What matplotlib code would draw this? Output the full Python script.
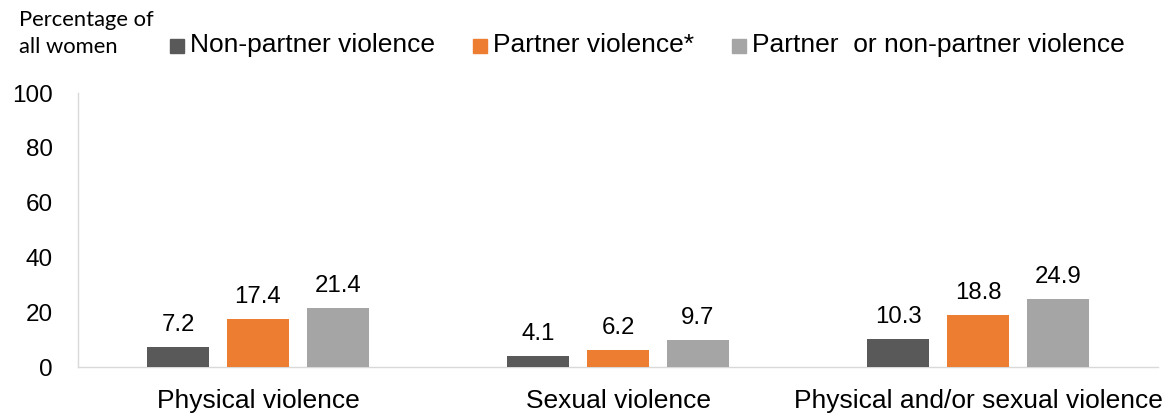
import matplotlib
matplotlib.use("Agg")
import matplotlib.pyplot as plt
import numpy as np
from matplotlib.patches import Rectangle

categories = ["Physical violence", "Sexual violence", "Physical and/or sexual violence"]
series_names = ["Non-partner violence", "Partner violence*", "Partner  or non-partner violence"]
non_partner = [7.2, 4.1, 10.3]
partner = [17.4, 6.2, 18.8]
either = [21.4, 9.7, 24.9]
colors = ["#595959", "#ED7D31", "#A5A5A5"]
yticks = [0, 20, 40, 60, 80, 100]

W, H = 1175, 418
fig = plt.figure(figsize=(W/100, H/100), dpi=100)
ax = fig.add_axes([78/W, 1 - 367/H, (1158-78)/W, (367-93)/H])

font = "Liberation Sans"
x = np.arange(len(categories))
bw = 0.173
step = 0.222
for i, (vals, c) in enumerate(zip([non_partner, partner, either], colors)):
    pos = x + (i - 1) * step
    ax.bar(pos, vals, width=bw, color=c, zorder=3)
    for p, v in zip(pos, vals):
        ax.annotate(f"{v:.1f}", (p, v), xytext=(0, 8), textcoords="offset points",
                    ha="center", va="bottom", fontsize=17.3, family=font, color="#000000")

ax.set_xlim(-0.5, 2.5)
ax.set_ylim(0, 100)
ax.set_yticks(yticks)
ax.set_yticklabels([str(t) for t in yticks], fontsize=17.5, family=font)
ax.set_xticks(x)
ax.set_xticklabels(categories, fontsize=19, family=font)
ax.tick_params(axis="y", length=0, pad=18)
ax.tick_params(axis="x", length=0, pad=16)
for s in ["top", "right"]:
    ax.spines[s].set_visible(False)
for s in ["left", "bottom"]:
    ax.spines[s].set_color("#D9D9D9")
    ax.spines[s].set_linewidth(1)

# Title-like annotation
fig.text(19/W, 1 - 20/H, "Percentage of", fontsize=15.8, family="Lato", va="center", ha="left")
fig.text(19/W, 1 - 47/H, "all women", fontsize=15.8, family="Lato", va="center", ha="left")

# Legend
leg_x = [170, 473, 732]
for lx, name, c in zip(leg_x, series_names, colors):
    fig.patches.append(Rectangle((lx/W, 1 - 53/H), 14/W, 14/H, transform=fig.transFigure,
                                 color=c, figure=fig))
    fig.text((lx + 20)/W, 1 - 45/H, name, fontsize=19, family=font, va="center", ha="left")

fig.savefig("out.png", dpi=100)
